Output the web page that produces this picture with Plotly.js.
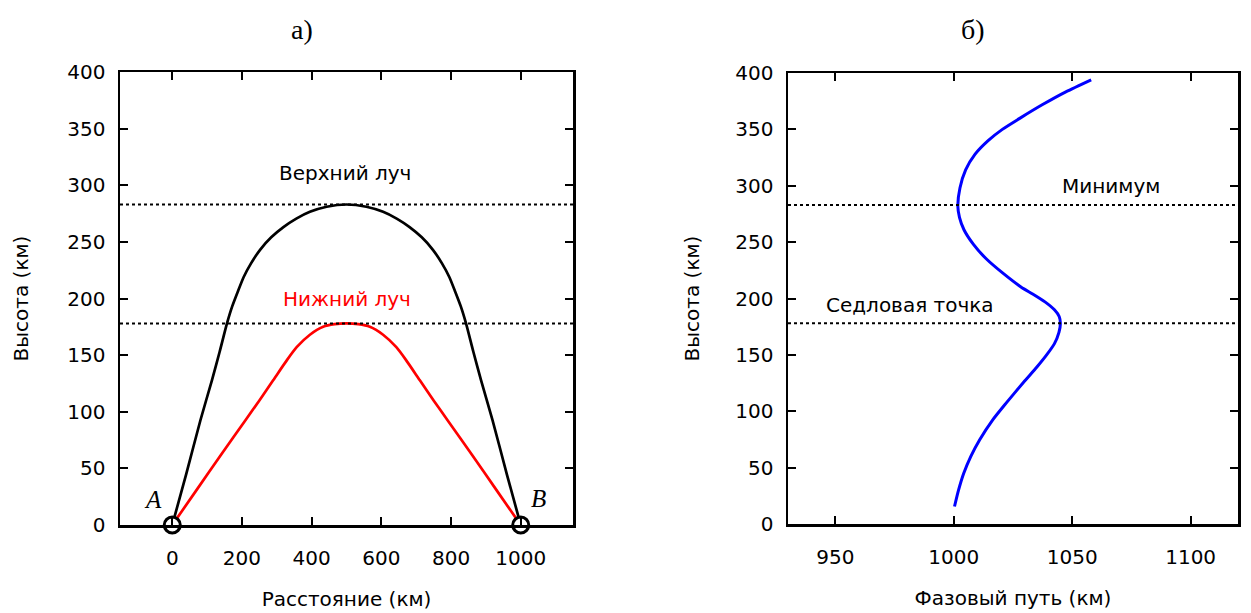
<!DOCTYPE html>
<html>
<head>
<meta charset="utf-8">
<script src="https://cdn.plot.ly/plotly-3.0.1.min.js"></script>
<style>
html,body{margin:0;padding:0;background:#fff;}
#chart{width:1251px;height:613px;}
</style>
</head>
<body>
<div id="chart"></div>
<script>
// ---- Data ----
// Panel а): ray paths, distance (km) vs height (km)
const upperRayX = [0, 40, 81, 114, 136, 157, 172, 188, 205, 226, 252, 284, 319, 356, 395, 443, 500,
                   557, 605, 644, 681, 716, 748, 774, 795, 812, 828, 843, 864, 886, 919, 960, 1000];
const upperRayY = [0, 45, 92.7, 128, 153, 178, 193, 206, 219, 231, 243, 254, 263, 270.5, 276.5, 281, 283,
                   281, 276.5, 270.5, 263, 254, 243, 231, 219, 206, 193, 178, 153, 128, 92.7, 45, 0];
const lowerRayX = [0, 70, 140, 210, 250, 290, 330, 357, 395, 433, 466, 500,
                   534, 567, 605, 643, 670, 710, 750, 790, 860, 930, 1000];
const lowerRayY = [0, 31, 62, 92.5, 110, 128, 146, 157, 168, 175, 177.3, 178,
                   177.3, 175, 168, 157, 146, 128, 110, 92.5, 62, 31, 0];
const endpointX = [0, 1000];
const endpointY = [0, 0];
const endpointLabels = ['A', 'B'];
// Panel б): phase path (km) vs height (km)
const phasePath = [1000.3, 1002, 1004.2, 1007.2, 1011, 1016.3, 1022, 1030, 1035, 1039.2,
                   1042.5, 1044.4, 1045, 1044.5, 1042.5, 1038.5, 1033.3, 1028.5, 1021, 1013.8,
                   1008.3, 1004.3, 1002.4, 1001.7, 1002.6, 1005, 1009, 1014.5, 1020.5, 1028,
                   1037.5, 1047.5, 1058];
const phaseHeight = [15.5, 30, 45, 60, 75, 92, 107, 127, 139, 150,
                     160, 170, 178, 184, 190, 197, 204, 210, 222, 235,
                     248, 261, 272, 282, 298, 314, 328, 340, 350, 360,
                     372, 383.5, 394];
// Reference levels (km)
const upperLevel = 283;
const lowerLevel = 178;
// Tick labels
const yTicks = [0, 50, 100, 150, 200, 250, 300, 350, 400];
const xTicksA = [0, 200, 400, 600, 800, 1000];
const xTicksB = [950, 1000, 1050, 1100];

const W = 1251, H = 613;
const sans = 'DejaVu Sans, Liberation Sans, sans-serif';
const serif = 'Liberation Serif, Times New Roman, serif';

const traces = [
  {x: upperRayX, y: upperRayY, xaxis: 'x', yaxis: 'y', mode: 'lines', line: {color: '#000', width: 2.7, shape: 'spline', smoothing: 0.6}, hoverinfo: 'skip'},
  {x: lowerRayX, y: lowerRayY, xaxis: 'x', yaxis: 'y', mode: 'lines', line: {color: '#ff0000', width: 2.7, shape: 'spline', smoothing: 0.6}, hoverinfo: 'skip'},
  {x: endpointX, y: endpointY, xaxis: 'x', yaxis: 'y', mode: 'markers', cliponaxis: false,
   marker: {symbol: 'circle', size: 16, color: '#fff', line: {color: '#000', width: 3}}, hoverinfo: 'skip'},
  {x: phasePath, y: phaseHeight, xaxis: 'x2', yaxis: 'y2', mode: 'lines', line: {color: '#0000ff', width: 3, shape: 'spline', smoothing: 0.6}, hoverinfo: 'skip'}
];

function axisCommon() {
  return {
    showgrid: false, zeroline: false, showline: true, linecolor: '#000', linewidth: 2.5,
    mirror: 'ticks', ticks: 'inside', ticklen: 8, tickwidth: 2, tickcolor: '#000',
    tickfont: {family: sans, size: 20, color: '#000'}
  };
}

const px = v => v / W;
const py = v => 1 - v / H;

const layout = {
  width: W, height: H,
  margin: {l: 0, r: 0, t: 0, b: 0},
  paper_bgcolor: '#fff', plot_bgcolor: '#fff',
  showlegend: false,
  xaxis: Object.assign(axisCommon(), {
    domain: [px(120), px(573)], range: [-150, 1150], anchor: 'y',
    tickvals: xTicksA, ticktext: xTicksA.map(String), ticklabelstandoff: 13,
    title: {text: 'Расстояние (км)', font: {family: sans, size: 20, color: '#000'}, standoff: 24}
  }),
  yaxis: Object.assign(axisCommon(), {
    domain: [py(525), py(72)], range: [0, 400], anchor: 'x',
    tickvals: yTicks, ticktext: yTicks.map(String), ticklabelstandoff: 8,
    title: {text: 'Высота (км)', font: {family: sans, size: 20, color: '#000'}, standoff: 34}
  }),
  xaxis2: Object.assign(axisCommon(), {
    domain: [px(788), px(1238)], range: [930, 1120], anchor: 'y2',
    tickvals: xTicksB, ticktext: xTicksB.map(String), ticklabelstandoff: 13,
    title: {text: 'Фазовый путь (км)', font: {family: sans, size: 20, color: '#000'}, standoff: 24}
  }),
  yaxis2: Object.assign(axisCommon(), {
    domain: [py(524), py(73)], range: [0, 400], anchor: 'x2',
    tickvals: yTicks, ticktext: yTicks.map(String), ticklabelstandoff: 8,
    title: {text: 'Высота (км)', font: {family: sans, size: 20, color: '#000'}, standoff: 31}
  }),
  shapes: [
    {type: 'line', xref: 'x domain', yref: 'y', x0: 0, x1: 1, y0: upperLevel, y1: upperLevel, line: {color: '#000', width: 2, dash: 'dot'}},
    {type: 'line', xref: 'x domain', yref: 'y', x0: 0, x1: 1, y0: lowerLevel, y1: lowerLevel, line: {color: '#000', width: 2, dash: 'dot'}},
    {type: 'line', xref: 'x2 domain', yref: 'y2', x0: 0, x1: 1, y0: upperLevel, y1: upperLevel, line: {color: '#000', width: 2, dash: 'dot'}},
    {type: 'line', xref: 'x2 domain', yref: 'y2', x0: 0, x1: 1, y0: lowerLevel, y1: lowerLevel, line: {color: '#000', width: 2, dash: 'dot'}}
  ],
  annotations: [
    {text: 'а)', xref: 'paper', yref: 'paper', x: px(302), y: py(30), xanchor: 'center', yanchor: 'middle', showarrow: false, font: {family: serif, size: 28, color: '#000'}},
    {text: 'б)', xref: 'paper', yref: 'paper', x: px(973), y: py(30), xanchor: 'center', yanchor: 'middle', showarrow: false, font: {family: serif, size: 28, color: '#000'}},
    {text: 'Верхний луч', xref: 'x', yref: 'y', x: 495, y: 311, xanchor: 'center', yanchor: 'middle', showarrow: false, font: {family: sans, size: 20, color: '#000'}},
    {text: 'Нижний луч', xref: 'x', yref: 'y', x: 500, y: 199.5, xanchor: 'center', yanchor: 'middle', showarrow: false, font: {family: sans, size: 20, color: '#ff0000'}},
    {text: '<i>' + endpointLabels[0] + '</i>', xref: 'x', yref: 'y', x: endpointX[0], y: endpointY[0], ax: -19, ay: -26, axref: 'pixel', ayref: 'pixel', showarrow: true, arrowcolor: 'rgba(0,0,0,0)', arrowwidth: 0.1, xanchor: 'center', yanchor: 'middle', font: {family: serif, size: 25, color: '#000'}, standoff: 0},
    {text: '<i>' + endpointLabels[1] + '</i>', xref: 'x', yref: 'y', x: endpointX[1], y: endpointY[1], ax: 18, ay: -27, axref: 'pixel', ayref: 'pixel', showarrow: true, arrowcolor: 'rgba(0,0,0,0)', arrowwidth: 0.1, xanchor: 'center', yanchor: 'middle', font: {family: serif, size: 25, color: '#000'}, standoff: 0},
    {text: 'Минимум', xref: 'x2', yref: 'y2', x: 1066.5, y: 299.5, xanchor: 'center', yanchor: 'middle', showarrow: false, font: {family: sans, size: 20, color: '#000'}},
    {text: 'Седловая точка', xref: 'x2', yref: 'y2', x: 981.7, y: 194.5, xanchor: 'center', yanchor: 'middle', showarrow: false, font: {family: sans, size: 20, color: '#000'}}
  ]
};

Plotly.newPlot('chart', traces, layout, {staticPlot: true, displayModeBar: false});
</script>
</body>
</html>
